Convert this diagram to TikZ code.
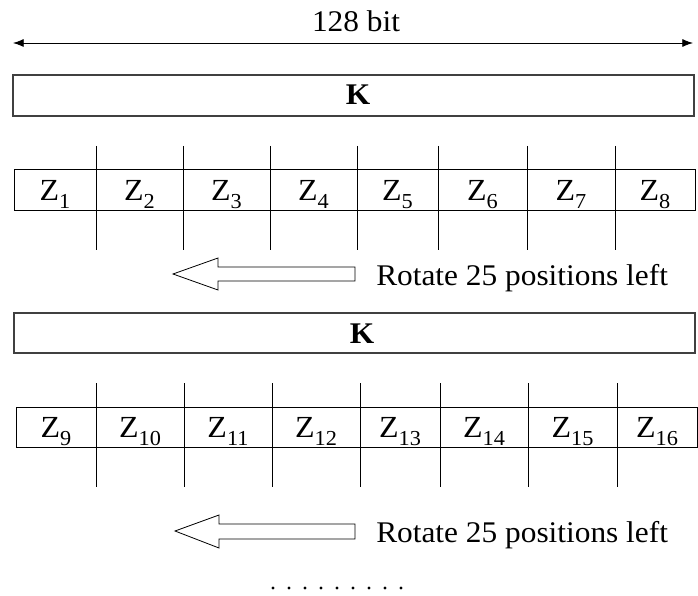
\documentclass[tikz,border=0pt]{standalone}
\usepackage{fontspec}
\setmainfont{Liberation Serif}
\usetikzlibrary{arrows.meta}
% text set slightly wide
\newcommand{\wide}[1]{\scalebox{1.045}[1]{#1}}
% Z with a lowered index
\newcommand{\zsub}[1]{Z\raisebox{-0.27em}{\fontsize{16}{17}\selectfont #1}}

\begin{document}
\begin{tikzpicture}[x=0.75pt,y=-0.75pt,
  lbl/.style={inner sep=0pt, font=\fontsize{22.5}{27}\selectfont},
  zlbl/.style={inner sep=0pt, font=\fontsize{23}{27}\selectfont},
  keybox/.style={draw=black!75, line width=1pt},
  cellrow/.style={draw=black, line width=0.75pt},
  divider/.style={draw=black, line width=0.75pt},
  hollow/.style={draw=black, line width=0.6pt, fill=white, line join=miter},
  dimline/.style={draw=black, line width=0.6pt,
    {Latex[length=8pt,width=6pt]}-{Latex[length=8pt,width=6pt]}}]
\useasboundingbox (0,0) rectangle (698,595);

% key width
\coordinate (wl) at (13,43);
\coordinate (wr) at (693,43);
\draw[dimline] (wl) -- (wr);
\node[lbl, anchor=base] (width) at (356,32) {\wide{128 bit}};

% first key
\draw[keybox] (13,75) rectangle (694,116);
\node[lbl, anchor=base] (k1) at (358,105) {\wide{\textbf{K}}};

% first eight subkeys
\draw[cellrow] (14,170) rectangle (695,210);
\foreach \x in {96,183,270,357,438,527,615}
  \draw[divider] (\x,146) -- (\x,250);
\foreach \i/\c in {1/55,2/139.5,3/226.5,4/313.5,5/397.5,6/482.5,7/571,8/655}
  \node[zlbl, anchor=base] (z\i) at (\c,200) {\wide{\zsub{\i}}};

% first rotation
\draw[hollow] (173,274) -- (218,258) -- (218,267) -- (355,267) -- (355,281)
  -- (218,281) -- (218,290) -- cycle;
\node[lbl, anchor=base west] (rot1) at (376,285) {\wide{Rotate 25 positions left}};

% rotated key
\draw[keybox] (14,313) rectangle (695,353);
\node[lbl, anchor=base] (k2) at (362,343) {\wide{\textbf{K}}};

% next eight subkeys
\draw[cellrow] (16,407) rectangle (697,447);
\foreach \x in {96,184,272,360,440,528,617}
  \draw[divider] (\x,383) -- (\x,487);
\foreach \i/\c in {9/56,10/140,11/228,12/316,13/400,14/484,15/572.5,16/657}
  \node[zlbl, anchor=base] (z\i) at (\c,437) {\wide{\zsub{\i}}};

% second rotation
\draw[hollow] (175,531) -- (219,515) -- (219,524) -- (355,524) -- (355,539)
  -- (219,539) -- (219,548) -- cycle;
\node[lbl, anchor=base west] (rot2) at (376,542) {\wide{Rotate 25 positions left}};

% continuation dots
\foreach \k in {0,...,8}
  \fill (273+16*\k,588) circle (1.7);
\end{tikzpicture}
\end{document}
